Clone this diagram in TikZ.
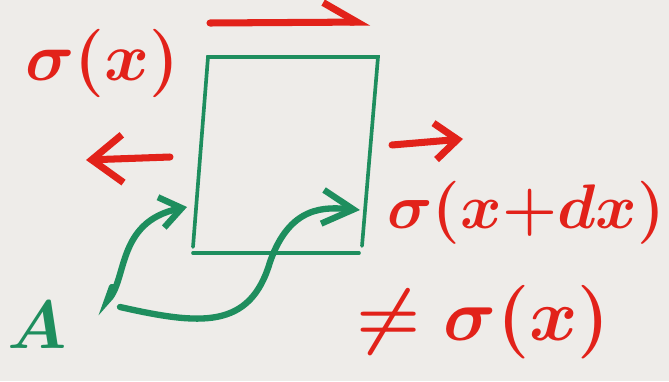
\documentclass[tikz,border=0pt]{standalone}
\usepackage{amsmath, amssymb}
\usepackage{graphicx}
\usepackage{tikz}
\usetikzlibrary{arrows.meta, positioning}

\definecolor{penred}{RGB}{226,34,26}
\definecolor{pengreen}{RGB}{30,142,94}
\definecolor{paper}{RGB}{238,236,233}

\newcommand{\bigpen}[2][1.95]{\scalebox{#1}{\Huge\boldmath #2}}

\begin{document}
\begin{tikzpicture}[x=0.025cm, y=-0.025cm,
  redpen/.style={draw=penred, line width=5pt, line cap=round},
  greenpen/.style={draw=pengreen, line width=4.5pt, line cap=round},
  boxline/.style={draw=pengreen, line width=2.6pt, line cap=round},
  redtext/.style={text=penred, inner sep=0pt},
  greentext/.style={text=pengreen, inner sep=0pt}]
  \fill[paper] (0,0) rectangle (669,381);
  \useasboundingbox (0,0) rectangle (669,381);

  % the slice
  \coordinate (tl) at (208,57);
  \coordinate (tr) at (378,57);
  \coordinate (lb) at (193,247);
  \coordinate (rb) at (362,246);
  \coordinate (bl) at (193,253);
  \coordinate (br) at (359,253);
  \draw[boxline] (lb) -- (tl) -- (tr) -- (rb);
  \draw[boxline] (bl) -- (br);

  % texts
  \node (sx) [redtext] at (102,63) {\bigpen{$\sigma(x)$}};
  \node (sxdx) [redtext] at (526,213) {\bigpen[1.8]{$\sigma(x{+}dx)$}};
  \node (neq) [redtext] at (483,322) {\bigpen[2.1]{$\neq\sigma(x)$}};
  \node (A) [greentext] at (37,325) {\bigpen{$A$}};

  % forces
  \coordinate (top0) at (210,23);
  \coordinate (top1) at (370,22);
  \draw[redpen, -{Straight Barb[harpoon, length=24pt, width=28pt]}] (top0) -- (top1);
  \coordinate (lf0) at (170,157);
  \coordinate (lf1) at (86,160);
  \draw[redpen, -{Straight Barb[length=22pt, width=34pt]}] (lf0) -- (lf1);
  \coordinate (rf0) at (392,145);
  \coordinate (rf1) at (463,139);
  \draw[redpen, -{Straight Barb[length=16pt, width=26pt]}] (rf0) -- (rf1);

  % area A, both faces
  \coordinate (a1) at (112,287);
  \coordinate (a1b) at (107,301);
  \coordinate (l1) at (187,207);
  \draw[greenpen, -{Straight Barb[length=15pt, width=22pt]}]
    (a1) -- (a1b) .. controls (128,282) and (115,222) .. (l1);
  \coordinate (a2) at (120,307);
  \coordinate (r1) at (360,210);
  \draw[greenpen, -{Straight Barb[length=22pt, width=24pt]}]
    (a2) .. controls (200,325) and (250,330) .. (270,262)
    .. controls (290,205) and (325,207) .. (r1);
\end{tikzpicture}
\end{document}
